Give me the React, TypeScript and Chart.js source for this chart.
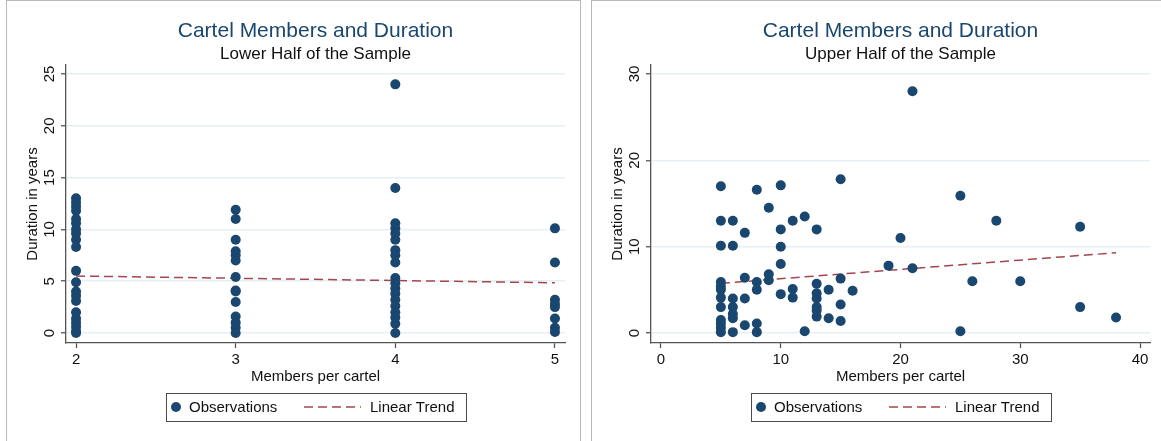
import React, { useEffect, useRef } from "react";
import { Chart, registerables } from "chart.js";

Chart.register(...registerables);

const FONT = '"Liberation Sans", Arial, Helvetica, sans-serif';
const NAVY = "#1a476f";
const MAROON = "#a3474d";
const AXIS = "#555555";
const GRID = "#e8eff3";
const TEXT = "#111111";

const chartTitle = "Cartel Members and Duration";
const lowerSubtitle = "Lower Half of the Sample";
const upperSubtitle = "Upper Half of the Sample";
const xTitle = "Members per cartel";
const yTitle = "Duration in years";
const seriesNames = ["Observations", "Linear Trend"];

// Lower half: durations observed for each member count
const lowerAt2 = [13, 12.6, 12.2, 11.8, 11, 10.6, 10, 9.6, 9, 8.3, 6, 4.9, 4, 3.6, 3.1, 2, 1.4, 1, 0.6, 0.2, 0];
const lowerAt3 = [11.9, 11, 9, 7.9, 7.5, 7, 5.4, 4.1, 4, 3, 1.6, 1, 0.5, 0];
const lowerAt4 = [24, 14, 10.6, 10.1, 9.6, 9, 8, 7.5, 6.8, 5.3, 4.8, 4.3, 3.8, 3.2, 2.6, 2, 1.5, 0.9, 0];
const lowerAt5 = [10.1, 6.8, 3.2, 2.8, 2.5, 1.4, 0.5, 0.1];
const lowerTrendMembers = [2, 5];
const lowerTrendDuration = [5.5, 4.85];
const lowerXTicks = [2, 3, 4, 5];
const lowerYTicks = [0, 5, 10, 15, 20, 25];

// Upper half: members and durations
const upperMembers = [
  5, 5, 5, 5, 5, 5, 5, 5, 5, 5, 5, 5,
  6, 6, 6, 6, 6, 6, 6,
  7, 7, 7, 7,
  8, 8, 8, 8, 8,
  9, 9, 9,
  10, 10, 10, 10, 10,
  11, 11, 11,
  12, 12,
  13, 13, 13, 13, 13, 13, 13,
  14, 14,
  15, 15, 15, 15,
  16, 19, 20, 21, 21, 25, 25, 26, 28, 30, 35, 35, 38,
];
const upperDuration = [
  17, 13, 10.1, 5.9, 5.4, 5, 4.1, 3, 1.5, 1.1, 0.6, 0.1,
  13, 10.1, 4, 3, 2.2, 1.7, 0.1,
  11.6, 6.4, 4, 0.9,
  16.6, 5.9, 5, 1.1, 0.1,
  14.5, 6.8, 6.1,
  17.1, 12, 10, 8, 4.5,
  13, 5.1, 4.1,
  13.5, 0.2,
  12, 5.7, 4.6, 4, 3, 2.6, 1.9,
  5, 1.7,
  17.8, 6.3, 3.3, 1.4,
  4.9, 7.8, 11, 28, 7.5, 15.9, 0.2, 6, 13, 6, 12.3, 3, 1.8,
];
const upperTrendMembers = [5, 38];
const upperTrendDuration = [5.75, 9.3];
const upperXTicks = [0, 10, 20, 30, 40];
const upperYTicks = [0, 10, 20, 30];

const boxLegend = {
  id: "boxLegend",
  afterDraw(chart: any) {
    const { ctx, chartArea } = chart;
    const ds = chart.data.datasets;
    const cx = Math.round((chartArea.left + chartArea.right) / 2);
    const top = 392;
    const w = 300;
    const h = 28;
    const cy = top + h / 2;
    ctx.save();
    ctx.strokeStyle = "#4a4a4a";
    ctx.lineWidth = 1;
    ctx.strokeRect(cx - w / 2 + 0.5, top + 0.5, w, h);
    ctx.fillStyle = ds[0].backgroundColor;
    ctx.beginPath();
    ctx.arc(cx - 140, cy, 5, 0, Math.PI * 2);
    ctx.fill();
    ctx.font = `15px ${FONT}`;
    ctx.fillStyle = TEXT;
    ctx.textAlign = "left";
    ctx.textBaseline = "middle";
    ctx.fillText(ds[0].label, cx - 127, cy + 1);
    ctx.strokeStyle = ds[1].borderColor;
    ctx.lineWidth = ds[1].borderWidth;
    ctx.setLineDash(ds[1].borderDash);
    ctx.beginPath();
    ctx.moveTo(cx - 12, cy);
    ctx.lineTo(cx + 45, cy);
    ctx.stroke();
    ctx.setLineDash([]);
    ctx.fillText(ds[1].label, cx + 54, cy + 1);
    ctx.restore();
  },
};

type PanelSpec = {
  subtitle: string;
  points: { x: number; y: number }[];
  trend: { x: number; y: number }[];
  xMin: number;
  xMax: number;
  yMin: number;
  yMax: number;
  xTicks: number[];
  yTicks: number[];
  padRight: number;
};

function buildConfig(p: PanelSpec): any {
  return {
    data: {
      datasets: [
        {
          type: "scatter",
          label: seriesNames[0],
          data: p.points,
          backgroundColor: NAVY,
          borderColor: NAVY,
          pointRadius: 5,
          pointBorderWidth: 0,
          pointHoverRadius: 5,
        },
        {
          type: "line",
          label: seriesNames[1],
          data: p.trend,
          borderColor: MAROON,
          borderWidth: 1.5,
          borderDash: [9, 5],
          pointRadius: 0,
          fill: false,
          tension: 0,
        },
      ],
    },
    options: {
      responsive: false,
      animation: false,
      devicePixelRatio: 1,
      layout: { padding: { left: 0, right: p.padRight, top: 0, bottom: 50 } },
      plugins: {
        legend: { display: false },
        tooltip: { enabled: false },
        title: {
          display: true,
          text: chartTitle,
          color: NAVY,
          fullSize: false,
          font: { family: FONT, size: 21, weight: "normal" },
          padding: { top: 18, bottom: 0 },
        },
        subtitle: {
          display: true,
          text: p.subtitle,
          color: TEXT,
          fullSize: false,
          font: { family: FONT, size: 17, weight: "normal" },
          padding: { top: 0, bottom: 0.4 },
        },
      },
      scales: {
        x: {
          type: "linear",
          position: "bottom",
          min: p.xMin,
          max: p.xMax,
          afterBuildTicks: (s: any) => {
            s.ticks = p.xTicks.map((v) => ({ value: v }));
          },
          afterFit: (s: any) => {
            s.height = 48;
          },
          grid: { drawOnChartArea: false, drawTicks: true, tickLength: 5, tickColor: AXIS, tickWidth: 1.3 },
          border: { display: true, color: AXIS, width: 1.3 },
          ticks: { color: TEXT, font: { family: FONT, size: 15 }, padding: 3, maxRotation: 0, autoSkip: false },
          title: {
            display: true,
            text: xTitle,
            color: TEXT,
            font: { family: FONT, size: 15 },
            padding: { top: 0, bottom: 5 },
          },
        },
        y: {
          type: "linear",
          position: "left",
          min: p.yMin,
          max: p.yMax,
          afterBuildTicks: (s: any) => {
            s.ticks = p.yTicks.map((v) => ({ value: v }));
          },
          afterFit: (s: any) => {
            s.width = 59;
          },
          grid: { color: GRID, lineWidth: 1.5, drawTicks: true, tickLength: 5, tickColor: AXIS, tickWidth: 1.3 },
          border: { display: true, color: AXIS, width: 1.3 },
          ticks: {
            color: TEXT,
            font: { family: FONT, size: 15 },
            padding: 3,
            minRotation: 90,
            maxRotation: 90,
            crossAlign: "center",
            autoSkip: false,
          },
          title: {
            display: true,
            text: yTitle,
            color: TEXT,
            font: { family: FONT, size: 15 },
            padding: { top: 17, bottom: 0 },
          },
        },
      },
    },
    plugins: [boxLegend],
  };
}

function ChartCanvas({ spec, width, height }: { spec: PanelSpec; width: number; height: number }) {
  const ref = useRef<HTMLCanvasElement | null>(null);
  useEffect(() => {
    if (!ref.current) return;
    const chart = new Chart(ref.current, buildConfig(spec));
    return () => chart.destroy();
  }, [spec]);
  return <canvas ref={ref} width={width} height={height} style={{ width, height, display: "block" }} />;
}

const lowerPoints = [
  ...lowerAt2.map((y) => ({ x: 2, y })),
  ...lowerAt3.map((y) => ({ x: 3, y })),
  ...lowerAt4.map((y) => ({ x: 4, y })),
  ...lowerAt5.map((y) => ({ x: 5, y })),
];
const upperPoints = upperMembers.map((x, i) => ({ x, y: upperDuration[i] }));

const lowerSpec: PanelSpec = {
  subtitle: lowerSubtitle,
  points: lowerPoints,
  trend: lowerTrendMembers.map((x, i) => ({ x, y: lowerTrendDuration[i] })),
  xMin: 1.937,
  xMax: 5.063,
  yMin: -0.965,
  yMax: 25.87,
  xTicks: lowerXTicks,
  yTicks: lowerYTicks,
  padRight: 14,
};

const upperSpec: PanelSpec = {
  subtitle: upperSubtitle,
  points: upperPoints,
  trend: upperTrendMembers.map((x, i) => ({ x, y: upperTrendDuration[i] })),
  xMin: -0.835,
  xMax: 40.835,
  yMin: -1.158,
  yMax: 31.04,
  xTicks: upperXTicks,
  yTicks: upperYTicks,
  padRight: 11,
};

export default function App() {
  return (
    <div
      style={{
        position: "absolute",
        left: 0,
        top: 0,
        width: 1161,
        height: 441,
        overflow: "hidden",
        background: "#ffffff",
      }}
    >
      <div
        style={{
          position: "absolute",
          left: 6,
          top: 0,
          width: 575,
          height: 470,
          border: "1px solid #b8b8b8",
          boxSizing: "border-box",
        }}
      />
      <div
        style={{
          position: "absolute",
          left: 591,
          top: 0,
          width: 620,
          height: 470,
          border: "1px solid #b8b8b8",
          boxSizing: "border-box",
        }}
      />
      <div style={{ position: "absolute", left: 7, top: 1 }}>
        <ChartCanvas spec={lowerSpec} width={572} height={440} />
      </div>
      <div style={{ position: "absolute", left: 592, top: 1 }}>
        <ChartCanvas spec={upperSpec} width={569} height={440} />
      </div>
    </div>
  );
}
